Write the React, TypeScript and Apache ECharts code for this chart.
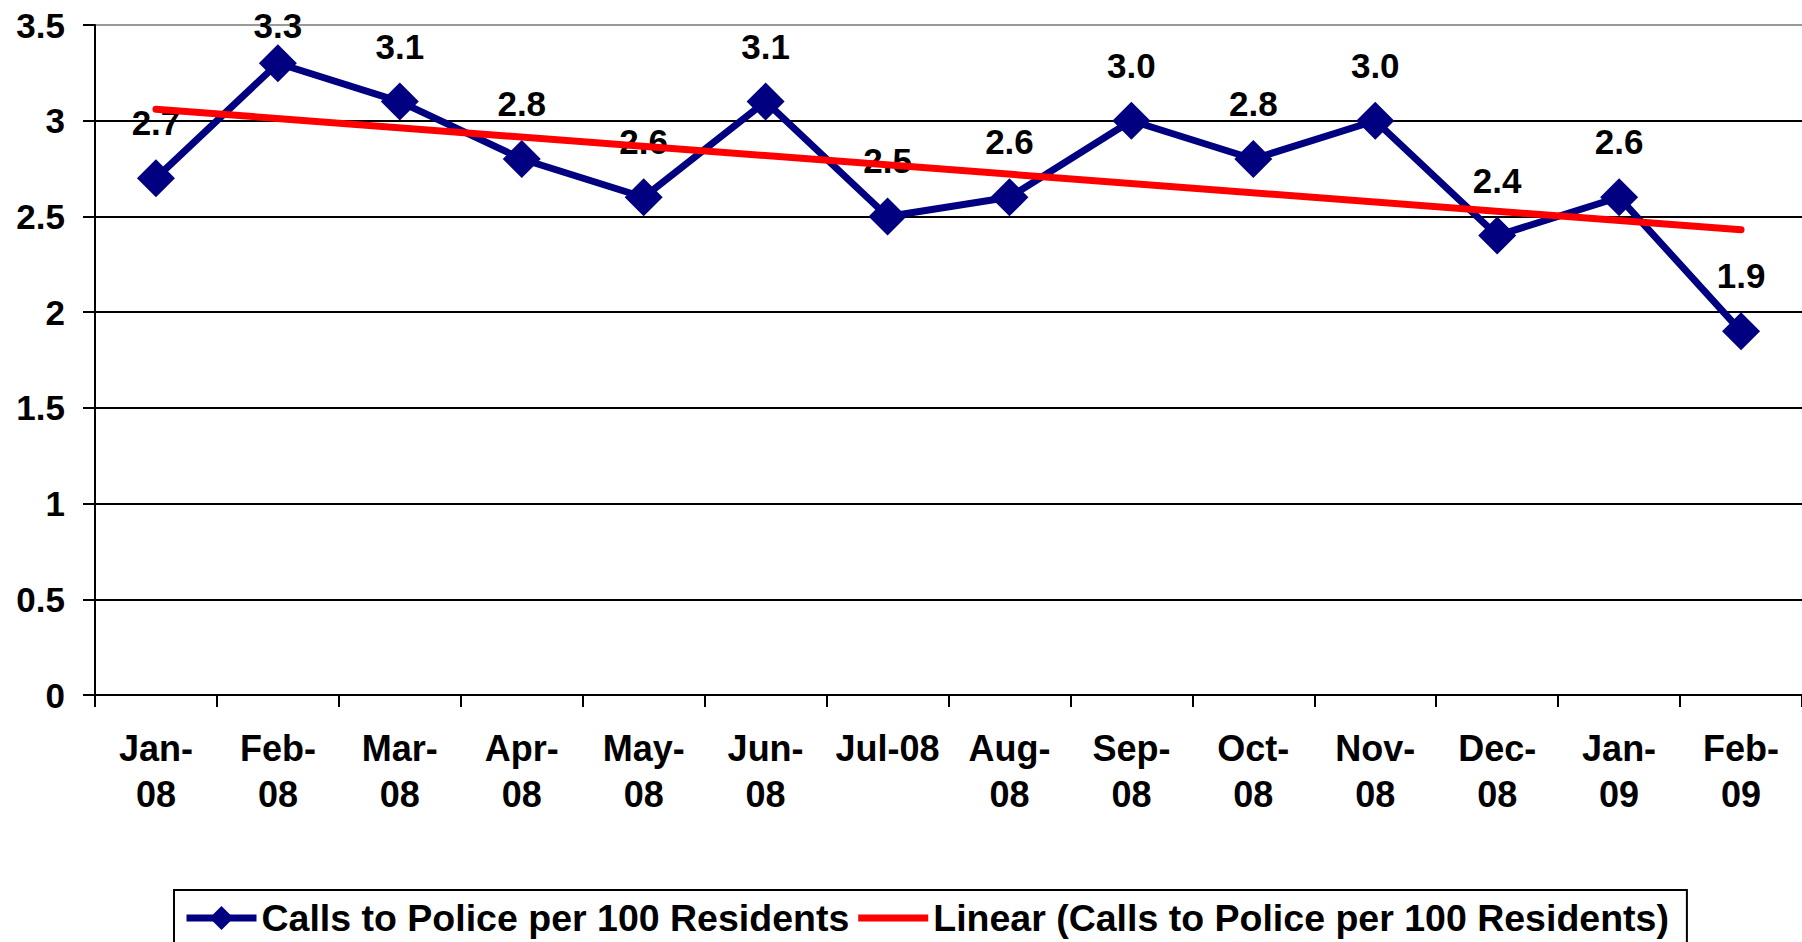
import React, { useEffect, useRef } from 'react';
import * as echarts from 'echarts';

const categories = ['Jan-08', 'Feb-08', 'Mar-08', 'Apr-08', 'May-08', 'Jun-08', 'Jul-08', 'Aug-08', 'Sep-08', 'Oct-08', 'Nov-08', 'Dec-08', 'Jan-09', 'Feb-09'];
const callsPer100 = [2.7, 3.3, 3.1, 2.8, 2.6, 3.1, 2.5, 2.6, 3.0, 2.8, 3.0, 2.4, 2.6, 1.9];
const trendPoints: [string, number][] = [['Jan-08', 3.06], ['Feb-09', 2.43]];
const seriesName = 'Calls to Police per 100 Residents';
const trendName = 'Linear (Calls to Police per 100 Residents)';
const yMin = 0;
const yMax = 3.5;
const yInterval = 0.5;

const FONT = '"Liberation Sans", Arial, sans-serif';

export default function App() {
  const ref = useRef<HTMLDivElement>(null);
  useEffect(() => {
    if (!ref.current) return;
    const chart = echarts.init(ref.current, undefined, { renderer: 'svg' });
    const splitColors = ['#000', '#000', '#000', '#000', '#000', '#000', '#000', '#999'];
    chart.setOption({
      animation: false,
      backgroundColor: '#fff',
      grid: { left: 95, right: -1, top: 25, bottom: 247, containLabel: false },
      xAxis: {
        type: 'category',
        data: categories,
        boundaryGap: true,
        axisLine: { lineStyle: { color: '#000', width: 2 } },
        axisTick: { show: true, length: 12, lineStyle: { color: '#000', width: 2 } },
        axisLabel: {
          interval: 0,
          margin: 30,
          color: '#000',
          fontSize: 36,
          fontWeight: 'bold',
          fontFamily: FONT,
          lineHeight: 46,
          formatter: (v: string) => (v === 'Jul-08' ? v : v.replace('-', '-\n')),
        },
        splitLine: { show: false },
      },
      yAxis: {
        type: 'value',
        min: yMin,
        max: yMax,
        interval: yInterval,
        axisLine: { show: true, lineStyle: { color: '#000', width: 2 } },
        axisTick: { show: true, length: 12, lineStyle: { color: '#000', width: 2 } },
        axisLabel: {
          margin: 30,
          color: '#000',
          fontSize: 35,
          fontWeight: 'bold',
          fontFamily: FONT,
        },
        splitLine: { show: true, lineStyle: { color: splitColors, width: 2 } },
      },
      legend: {
        left: 174,
        top: 890,
        padding: [9, 18, 9, 9],
        borderColor: '#000',
        borderWidth: 2,
        itemWidth: 70,
        itemHeight: 30,
        itemGap: 9,
        textStyle: { fontSize: 37.5, fontWeight: 'bold', color: '#000', fontFamily: FONT },
        data: [
          { name: seriesName, lineStyle: { width: 7 } },
          { name: trendName, icon: 'path://M0,0L70,0L70,7L0,7Z' },
        ],
      },
      series: [
        {
          name: seriesName,
          type: 'line',
          data: callsPer100.map((v, i) =>
            i === 1 ? { value: v, label: { offset: [0, 18] } } : v
          ),
          symbol: 'diamond',
          symbolSize: 38,
          lineStyle: { color: '#000080', width: 7 },
          itemStyle: { color: '#000080' },
          label: {
            show: true,
            position: 'top',
            distance: 19,
            color: '#000',
            fontSize: 35,
            fontWeight: 'bold',
            fontFamily: FONT,
            formatter: (p: any) => Number(p.value).toFixed(1),
          },
          z: 2,
        },
        {
          name: trendName,
          type: 'line',
          data: trendPoints,
          symbol: 'none',
          lineStyle: { color: '#ff0000', width: 7, cap: 'round' },
          itemStyle: { color: '#ff0000' },
          z: 3,
        },
      ],
    });
    return () => chart.dispose();
  }, []);
  return (
    <div
      ref={ref}
      style={{ position: 'fixed', left: 0, top: 0, width: 1802, height: 942, background: '#fff' }}
    />
  );
}
